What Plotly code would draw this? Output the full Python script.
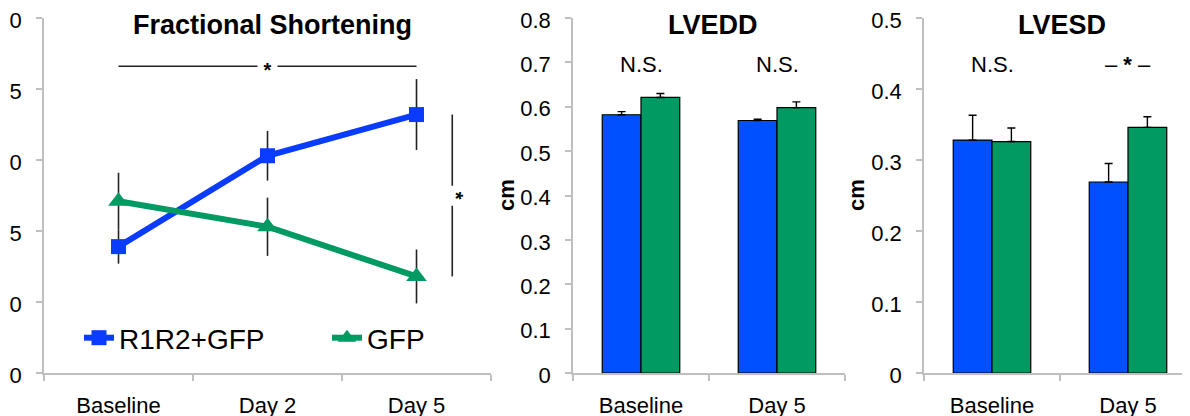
import plotly.graph_objects as go

# ---------------- data ----------------
days = ["Baseline", "Day 2", "Day 5"]
fs_r1r2 = [23.9, 30.3, 33.2]
fs_r1r2_err = [1.2, 1.75, 2.5]
fs_gfp = [27.1, 25.3, 21.8]
fs_gfp_err = [2.0, 2.05, 1.9]
fs_tickvals = [15, 20, 25, 30, 35, 40]
fs_ticktext = ["0", "0", "5", "0", "5", "0"]   # labels as visible (cropped) in the source

bar_groups = ["Baseline", "Day 5"]
lvedd_r1r2 = [0.582, 0.569]
lvedd_r1r2_err = [0.007, 0.003]
lvedd_gfp = [0.621, 0.598]
lvedd_gfp_err = [0.009, 0.013]

lvesd_r1r2 = [0.328, 0.269]
lvesd_r1r2_err = [0.035, 0.026]
lvesd_gfp = [0.326, 0.346]
lvesd_gfp_err = [0.019, 0.015]

lvedd_ticks = [0, 0.1, 0.2, 0.3, 0.4, 0.5, 0.6, 0.7, 0.8]
lvesd_ticks = [0, 0.1, 0.2, 0.3, 0.4, 0.5]
lvedd_notes = ["N.S.", "N.S."]
lvesd_notes = ["N.S.", "– <b>*</b> –"]

# ---------------- style ----------------
W, H = 1190, 416
PAGE_OFF = 8  # default body margin of the html page
FONT = "Arial, Liberation Sans, sans-serif"
BLUE_LINE = "#0a3cff"
BLUE_BAR = "#0050ff"
GREEN = "#009a62"
AXIS = "#bfbfbf"

def px_x(p):
    return (p - PAGE_OFF) / W

def px_y(p):
    return (H - (p - PAGE_OFF)) / H

ydom = [px_y(373), px_y(18)]

fig = go.Figure()

# Panel 1: line chart
fig.add_trace(go.Scatter(
    x=days, y=fs_r1r2, name="R1R2+GFP", mode="lines+markers",
    line=dict(color=BLUE_LINE, width=6),
    marker=dict(symbol="square", size=15, color=BLUE_LINE),
    error_y=dict(type="data", array=fs_r1r2_err, color="#222222", thickness=1.6, width=0),
    xaxis="x", yaxis="y"))
fig.add_trace(go.Scatter(
    x=days, y=fs_gfp, name="GFP", mode="lines+markers",
    line=dict(color=GREEN, width=6),
    marker=dict(symbol="triangle-up", size=18, color=GREEN),
    error_y=dict(type="data", array=fs_gfp_err, color="#222222", thickness=1.6, width=0),
    xaxis="x", yaxis="y"))

def add_bars(vals, errs, color, xa, ya):
    fig.add_trace(go.Bar(
        x=bar_groups, y=vals, marker=dict(color=color, line=dict(color="black", width=1.2)),
        error_y=dict(type="data", symmetric=False, array=errs, arrayminus=[0] * len(errs),
                     color="black", thickness=1.4, width=4),
        showlegend=False, xaxis=xa, yaxis=ya))

add_bars(lvedd_r1r2, lvedd_r1r2_err, BLUE_BAR, "x2", "y2")
add_bars(lvedd_gfp, lvedd_gfp_err, GREEN, "x2", "y2")
add_bars(lvesd_r1r2, lvesd_r1r2_err, BLUE_BAR, "x3", "y3")
add_bars(lvesd_gfp, lvesd_gfp_err, GREEN, "x3", "y3")

tickfont = dict(family=FONT, size=22, color="black")

def xaxis_cfg(dom, rng, anchor):
    return dict(domain=dom, range=rng, anchor=anchor, type="category", showline=True, linecolor=AXIS,
                linewidth=1.5, ticks="outside", tickson="boundaries", ticklen=6, tickcolor=AXIS,
                tickwidth=1.5, showgrid=False, zeroline=False, tickfont=tickfont,
                ticklabelstandoff=12, automargin=False, ticklabeloverflow="allow")

def yaxis_cfg(anchor, rng, tickvals, ticktext):
    return dict(domain=ydom, range=rng, anchor=anchor, showline=True, linecolor=AXIS, linewidth=1.5,
                ticks="outside", ticklen=6, tickcolor=AXIS, tickwidth=1.5, showgrid=False,
                zeroline=False, tickfont=tickfont, tickvals=tickvals, ticktext=ticktext,
                ticklabelstandoff=10, ticklabelshift=2, automargin=False, ticklabeloverflow="allow")

fig.update_layout(
    width=W, height=H, margin=dict(l=0, r=0, t=0, b=0, autoexpand=False),
    paper_bgcolor="white", plot_bgcolor="white",
    font=dict(family=FONT, color="black"),
    barmode="group", bargap=0.43, bargroupgap=0,
    xaxis=xaxis_cfg([px_x(44), px_x(491)], [-0.5, 2.5], "y"),
    yaxis=yaxis_cfg("x", [15, 40], fs_tickvals, fs_ticktext),
    xaxis2=xaxis_cfg([px_x(573), px_x(845)], [-0.5, 1.5], "y2"),
    yaxis2=yaxis_cfg("x2", [0, 0.8], lvedd_ticks, [str(v) for v in lvedd_ticks]),
    xaxis3=xaxis_cfg([px_x(924), px_x(1196)], [-0.5, 1.5], "y3"),
    yaxis3=yaxis_cfg("x3", [0, 0.5], lvesd_ticks, [str(v) for v in lvesd_ticks]),
    legend=dict(orientation="h", x=px_x(79), y=px_y(338), xanchor="left", yanchor="middle",
                font=dict(family=FONT, size=28, color="black"), bgcolor="rgba(0,0,0,0)",
                entrywidthmode="pixels", entrywidth=203, itemwidth=30),
)

anns = []
# titles
for txt, xc in [("Fractional Shortening", 272), ("LVEDD", 713), ("LVESD", 1062)]:
    anns.append(dict(text="<b>%s</b>" % txt, x=px_x(xc), y=px_y(25), xref="paper", yref="paper",
                     showarrow=False, font=dict(family=FONT, size=27, color="black"),
                     xanchor="center", yanchor="middle"))
# cm labels
for xc in [507, 857]:
    anns.append(dict(text="<b>cm</b>", x=px_x(xc), y=px_y(195), xref="paper", yref="paper",
                     showarrow=False, textangle=-90, font=dict(family=FONT, size=22, color="black"),
                     xanchor="center", yanchor="middle"))
# N.S. notes
for i, t in enumerate(lvedd_notes):
    anns.append(dict(text=t, x=bar_groups[i], y=px_y(65), xref="x2", yref="paper", showarrow=False,
                     font=dict(family=FONT, size=22, color="black"), yanchor="middle"))
for i, t in enumerate(lvesd_notes):
    anns.append(dict(text=t, x=bar_groups[i], y=px_y(65), xref="x3", yref="paper", showarrow=False,
                     font=dict(family=FONT, size=22, color="black"), yanchor="middle"))

# significance bars in panel 1
sig_y = 36.6
shapes = [
    dict(type="line", xref="x", yref="y", x0=0, x1=2, y0=sig_y, y1=sig_y,
         line=dict(color="#222222", width=1.6), layer="below"),
    dict(type="line", xref="x", yref="y", x0=2.24, x1=2.24, y0=fs_gfp[2], y1=fs_r1r2[2],
         line=dict(color="#222222", width=1.6), layer="below"),
]
anns.append(dict(text=" <b>*</b> ", x=1, y=sig_y, xref="x", yref="y", showarrow=False, bgcolor="white",
                 font=dict(family=FONT, size=20, color="black"), yshift=-4, borderpad=0))
anns.append(dict(text=" <b>*</b> ", x=2.24, y=(fs_gfp[2] + fs_r1r2[2]) / 2, xref="x", yref="y",
                 showarrow=False, bgcolor="white", textangle=90, xshift=4,
                 font=dict(family=FONT, size=20, color="black"), borderpad=0))

fig.update_layout(annotations=anns, shapes=shapes)

fig.write_html("out.html")
